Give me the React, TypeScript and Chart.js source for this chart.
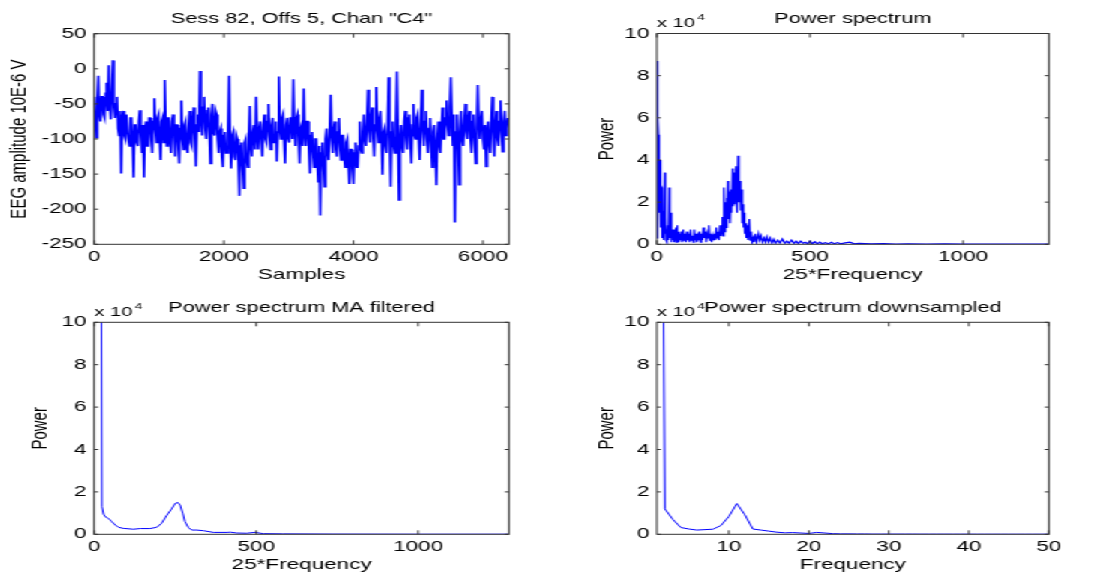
import React, { useEffect, useRef } from 'react';
import { Chart, registerables } from 'chart.js';

Chart.register(...registerables);

// ---------------- DATA ----------------
// EEG trace, one read value every EEG_STEP samples (local peaks / troughs / core)
const EEG_STEP = 16;
const eegValues = [
  -40, -70, -98, -45, -10, -65, -75, -40, -40, -65, -70, -35, -20, -60, 5, -50, -72, -35, 12, -55,
  -70, -50, -40, -85, -95, -60, -149, -70, -60, -95, -100, -65, -65, -100, -110, -70, -70, -105, -155, -80,
  -80, -105, -110, -75, -59, -95, -120, -80, -155, -85, -75, -110, -110, -70, -70, -100, -120, -75, -42, -85,
  -105, -70, -65, -100, -130, -75, -70, -105, -16, -80, -110, -70, -70, -100, -120, -75, -65, -100, -125, -80,
  -80, -110, -135, -85, -45, -100, -115, -80, -75, -110, -120, -85, -60, -105, -110, -75, -55, -95, -139, -80,
  -65, -90, -3, -70, -95, -55, -40, -85, -100, -60, -55, -90, -135, -65, -50, -90, -95, -60, -65, -100,
  -120, -90, -85, -125, -140, -95, -90, -120, -120, -90, -10, -100, -142, -95, -90, -125, -130, -95, -100, -130,
  -181, -110, -105, -140, -170, -105, -100, -130, -140, -100, -53, -110, -125, -90, -80, -115, -40, -95, -115, -85,
  -75, -105, -125, -80, -65, -100, -105, -75, -50, -95, -115, -80, -70, -105, -105, -75, -132, -90, -11, -85,
  -100, -70, -65, -100, -135, -80, -70, -100, -105, -70, -70, -100, -15, -85, -110, -70, -65, -100, -135, -85,
  -80, -110, -28, -90, -110, -75, -75, -115, -149, -95, -90, -120, -140, -100, -100, -130, -161, -110, -209, -120,
  -105, -135, -168, -100, -85, -120, -130, -90, -37, -95, -120, -85, -75, -115, -125, -90, -70, -110, -130, -95,
  -95, -125, -140, -105, -100, -135, -164, -115, -115, -145, -164, -120, -105, -140, -140, -110, -75, -115, -120, -90,
  -65, -100, -110, -75, -30, -90, -105, -70, -55, -95, -125, -80, -26, -85, -105, -70, -60, -100, -151, -90,
  -85, -110, -120, -80, -12, -95, -168, -90, -75, -110, -120, -80, -4, -90, -187, -100, -80, -110, -120, -75,
  -60, -100, -115, -70, -65, -105, -135, -80, -50, -95, -100, -70, -65, -100, -130, -80, -30, -85, -110, -75,
  -60, -100, -120, -85, -70, -110, -140, -90, -80, -115, -166, -100, -75, -110, -120, -85, -55, -100, -100, -70,
  -45, -80, -95, -55, -12, -70, -110, -65, -219, -90, -65, -105, -165, -90, -60, -100, -110, -75, -50, -90,
  -100, -70, -60, -100, -120, -75, -65, -105, -135, -85, -23, -80, -100, -70, -60, -100, -115, -80, -139, -90,
  -75, -105, -120, -75, -40, -90, -125, -80, -60, -100, -110, -75, -45, -90, -118, -75, -60, -95, -85, -70,
];
const eegXTicks = [0, 2000, 4000, 6000];

// Raw power spectrum (x 10^4)
const psFreq = [
  0, 1, 3, 4, 5, 6, 8, 9, 10, 11, 12, 13, 14, 16, 17, 18, 20, 21, 22, 24,
  26, 27, 29, 30, 32, 34, 36, 38, 40, 41, 43, 44, 46, 48, 50, 52, 54, 56, 58, 60,
  62, 64, 66, 68, 70, 72, 75, 78, 80, 83, 86, 89, 92, 95, 98, 101, 104, 107, 110, 113,
  116, 119, 122, 125, 128, 131, 134, 137, 140, 143, 146, 149, 152, 155, 158, 161, 164, 167, 170, 173,
  176, 179, 182, 185, 188, 191, 194, 197, 200, 203, 206, 209, 212, 214, 216, 218, 220, 222, 224, 226,
  228, 230, 232, 234, 236, 238, 240, 242, 244, 247, 249, 252, 254, 256, 258, 260, 262, 265, 267, 269,
  272, 274, 277, 279, 281, 283, 285, 287, 289, 291, 293, 296, 298, 302, 305, 308, 311, 315, 318, 322,
  326, 332, 336, 340, 345, 350, 355, 359, 365, 370, 376, 382, 388, 395, 402, 410, 418, 425, 432, 440,
  448, 455, 462, 470, 478, 485, 492, 500, 508, 516, 524, 532, 540, 550, 560, 570, 580, 590, 600, 615,
  630, 645, 660, 700, 740, 780, 820, 880, 940, 1000, 1060, 1120, 1180, 1240, 1280,
];
const psPower = [
  0.3, 8.7, 2.0, 6.0, 5.2, 1.5, 4.7, 2.5, 4.0, 1.0, 3.6, 0.8, 2.8, 2.7, 0.3, 1.6, 1.3, 0.2, 1.0, 0.3,
  3.4, 0.5, 1.3, 0.2, 0.7, 0.1, 0.9, 0.2, 2.7, 0.4, 2.2, 0.3, 1.5, 0.1, 0.7, 0.2, 0.7, 0.1, 0.5, 0.2,
  0.8, 0.1, 0.9, 0.3, 0.6, 0.1, 0.5, 0.2, 0.6, 0.1, 0.7, 0.2, 0.5, 0.1, 0.6, 0.2, 0.5, 0.1, 0.7, 0.2,
  0.4, 0.1, 0.7, 0.2, 0.5, 0.1, 0.4, 0.2, 0.6, 0.1, 0.5, 0.2, 0.8, 0.3, 0.6, 0.1, 0.5, 0.3, 0.9, 0.2,
  0.5, 0.1, 0.4, 0.2, 0.5, 0.2, 0.8, 0.3, 0.6, 0.2, 0.9, 0.4, 0.8, 1.3, 0.4, 1.6, 2.7, 0.6, 2.0, 0.8,
  2.2, 1.0, 3.0, 1.2, 2.5, 1.8, 1.0, 2.6, 1.5, 3.6, 1.8, 3.4, 1.9, 2.8, 3.7, 2.1, 1.5, 4.2, 2.0, 2.3,
  3.0, 1.6, 2.6, 1.0, 1.9, 0.8, 1.5, 0.5, 1.0, 0.8, 0.3, 0.9, 0.2, 1.2, 0.2, 0.6, 0.1, 0.3, 0.1, 0.5,
  0.1, 0.5, 0.2, 0.4, 0.1, 0.3, 0.1, 0.35, 0.1, 0.3, 0.05, 0.25, 0.05, 0.2, 0.05, 0.25, 0.05, 0.15, 0.05, 0.2,
  0.05, 0.15, 0.03, 0.15, 0.05, 0.1, 0.02, 0.15, 0.03, 0.12, 0.02, 0.1, 0.03, 0.08, 0.02, 0.1, 0.02, 0.08, 0.02, 0.07,
  0.1, 0.02, 0.04, 0.02, 0.03, 0.01, 0.02, 0.01, 0.02, 0.01, 0.015, 0.01, 0.015, 0.01, 0.01,
];

// Moving-average filtered spectrum (x 10^4)
const maFreq = [
  0, 24, 29, 34, 39, 49, 54, 65, 75, 90, 121, 142, 172, 193, 208, 224, 239, 250, 258, 265,
  273, 280, 291, 301, 316, 337, 368, 409, 420, 440, 470, 496, 522, 583, 737, 1000, 1280,
];
const maPower = [
  120, 1.3, 0.95, 0.83, 0.8, 0.68, 0.6, 0.44, 0.33, 0.28, 0.24, 0.27, 0.27, 0.33, 0.52, 0.9, 1.2, 1.46, 1.5, 1.38,
  1.0, 0.6, 0.31, 0.2, 0.2, 0.17, 0.09, 0.09, 0.1, 0.06, 0.05, 0.09, 0.03, 0.02, 0.01, 0.005, 0.005,
];
const spectrumXTicks = [0, 500, 1000];

// Downsampled spectrum (x 10^4)
const dsFreq = [
  1, 2, 3, 4, 5, 6, 7, 8, 9, 10, 11, 12, 13, 14, 15, 16, 17, 18, 19, 20, 21, 22, 23, 24, 25,
  26, 27, 28, 29, 30, 31, 32, 33, 34, 35, 36, 37, 38, 39, 40, 41, 42, 43, 44, 45, 46, 47, 48, 49, 50,
];
const dsPower = [
  60, 1.2, 0.7, 0.32, 0.25, 0.2, 0.22, 0.24, 0.41, 0.84, 1.45, 0.92, 0.25, 0.2, 0.15, 0.1, 0.07, 0.08, 0.06, 0.04,
  0.09, 0.06, 0.03, 0.02, 0.02, 0.015, 0.015, 0.01, 0.01, 0.01, 0.01, 0.01, 0.01, 0.008, 0.008, 0.008, 0.008, 0.007,
  0.007, 0.007, 0.006, 0.006, 0.006, 0.006, 0.005, 0.005, 0.005, 0.005, 0.005, 0.005,
];
const dsXTicks = [10, 20, 30, 40, 50];

// ---------------- rendering ----------------
const FONT = '"Liberation Sans", Arial, Helvetica, sans-serif';
const STRETCH = 1.5;

const matlabPlugin = {
  id: 'matlab',
  afterDraw(chart: any, _args: any, opts: any) {
    const { ctx, chartArea, scales } = chart;
    const { left, right, top, bottom } = chartArea;
    ctx.save();
    ctx.strokeStyle = '#333';
    ctx.lineWidth = 1;
    ctx.strokeRect(left, top, right - left, bottom - top);
    ctx.beginPath();
    const tlx = 4;
    const tly = 2.7;
    scales.x.ticks.forEach((t: any) => {
      const px = scales.x.getPixelForValue(t.value);
      ctx.moveTo(px, bottom);
      ctx.lineTo(px, bottom - tlx);
      ctx.moveTo(px, top);
      ctx.lineTo(px, top + tlx);
    });
    scales.y.ticks.forEach((t: any) => {
      const py = scales.y.getPixelForValue(t.value);
      ctx.moveTo(left, py);
      ctx.lineTo(left + tly, py);
      ctx.moveTo(right, py);
      ctx.lineTo(right - tly, py);
    });
    ctx.stroke();

    ctx.fillStyle = '#000';
    ctx.textBaseline = 'alphabetic';
    ctx.font = `14.5px ${FONT}`;
    ctx.textAlign = 'center';
    ctx.fillText(opts.title, (left + right) / 2, top - 10.8);
    if (opts.exponent) {
      ctx.textAlign = 'left';
      ctx.font = `13.5px ${FONT}`;
      const base = 'x 10';
      ctx.fillText(base, left, top - 6.5);
      const w = ctx.measureText(base).width;
      ctx.font = `9px ${FONT}`;
      ctx.fillText(opts.exponent, left + w + 1.5, top - 13.5);
    }
    ctx.restore();
  },
};

type Panel = {
  left: number;
  top: number;
  width: number;
  height: number;
  xs: number[];
  ys: number[];
  lineWidth: number;
  xMin: number;
  xMax: number;
  xTicks: number[];
  yMin: number;
  yMax: number;
  yStep: number;
  title: string;
  xTitle: string;
  yTitle: string;
  exponent?: string;
  areaLeft: number;
  areaRight: number;
  areaTop: number;
  areaBottom: number;
  yTitleCenter: number;
  xTitleMiddle: number;
};

function PanelChart({ p }: { p: Panel }) {
  const ref = useRef<HTMLCanvasElement | null>(null);
  useEffect(() => {
    if (!ref.current) return;
    const data = p.xs.map((x, i) => ({ x, y: p.ys[i] }));
    const chart = new Chart(ref.current, {
      type: 'line',
      data: {
        datasets: [
          {
            data,
            borderColor: '#0000ff',
            borderWidth: p.lineWidth,
            pointRadius: 0,
            tension: 0,
            fill: false,
          },
        ],
      },
      options: {
        animation: false,
        responsive: false,
        maintainAspectRatio: false,
        events: [],
        layout: {
          padding: {
            left: 0,
            right: p.width - p.areaRight,
            top: p.areaTop,
            bottom: 0,
          },
        },
        plugins: {
          legend: { display: false },
          tooltip: { enabled: false },
          title: { display: false },
          matlab: { title: p.title, exponent: p.exponent },
        } as any,
        scales: {
          x: {
            type: 'linear',
            min: p.xMin,
            max: p.xMax,
            grid: { display: false, drawTicks: false },
            border: { display: false },
            ticks: {
              padding: 4,
              color: '#000',
              maxRotation: 0,
              autoSkip: false,
              font: { family: FONT, size: 15 },
              callback: (v: any) => String(v),
            },
            afterBuildTicks: (s: any) => {
              s.ticks = p.xTicks.map((v) => ({ value: v }));
            },
            afterFit: (s: any) => {
              s.height = p.height - p.areaBottom;
            },
            title: {
              display: true,
              text: p.xTitle,
              color: '#000',
              font: { family: FONT, size: 15 },
              padding: { top: 0, bottom: p.height - 9 - p.xTitleMiddle },
            },
          },
          y: {
            type: 'linear',
            min: p.yMin,
            max: p.yMax,
            grid: { display: false, drawTicks: false },
            border: { display: false },
            ticks: {
              padding: 5,
              color: '#000',
              stepSize: p.yStep,
              font: { family: FONT, size: 15 },
              callback: (v: any) => String(v),
            },
            afterFit: (s: any) => {
              s.width = p.areaLeft;
            },
            title: {
              display: true,
              text: p.yTitle,
              color: '#000',
              font: { family: FONT, size: 15 },
              padding: { top: p.yTitleCenter - 9, bottom: 0 },
            },
          },
        },
      },
      plugins: [matlabPlugin as any],
    });
    return () => chart.destroy();
  }, [p]);
  return (
    <canvas
      ref={ref}
      width={p.width}
      height={p.height}
      style={{ position: 'absolute', left: p.left, top: p.top, width: p.width, height: p.height }}
    />
  );
}

const eegSamples = eegValues.map((_, i) => i * EEG_STEP);

const panels: Panel[] = [
  {
    left: 0, top: 0, width: 360, height: 290,
    xs: eegSamples, ys: eegValues, lineWidth: 1.6,
    xMin: 0, xMax: 6400, xTicks: eegXTicks,
    yMin: -250, yMax: 50, yStep: 50,
    title: 'Sess 82, Offs 5, Chan "C4"', xTitle: 'Samples', yTitle: 'EEG amplitude 10E-6 V',
    areaLeft: 62.67, areaRight: 339.33, areaTop: 33.7, areaBottom: 244.3,
    yTitleCenter: 12.7, xTitleMiddle: 274.8,
  },
  {
    left: 360, top: 0, width: 369, height: 290,
    xs: psFreq, ys: psPower, lineWidth: 1.2,
    xMin: 0, xMax: 1280, xTicks: spectrumXTicks,
    yMin: 0, yMax: 10, yStep: 2,
    title: 'Power spectrum', xTitle: '25*Frequency', yTitle: 'Power', exponent: '4',
    areaLeft: 78, areaRight: 339.33, areaTop: 33.5, areaBottom: 244.3,
    yTitleCenter: 44.4, xTitleMiddle: 274.8,
  },
  {
    left: 0, top: 290, width: 360, height: 285,
    xs: maFreq, ys: maPower, lineWidth: 1,
    xMin: 0, xMax: 1280, xTicks: spectrumXTicks,
    yMin: 0, yMax: 10, yStep: 2,
    title: 'Power spectrum MA filtered', xTitle: '25*Frequency', yTitle: 'Power', exponent: '4',
    areaLeft: 62.67, areaRight: 339.33, areaTop: 32.3, areaBottom: 244.3,
    yTitleCenter: 26.7, xTitleMiddle: 274.8,
  },
  {
    left: 360, top: 290, width: 369, height: 285,
    xs: dsFreq, ys: dsPower, lineWidth: 1,
    xMin: 1, xMax: 50, xTicks: dsXTicks,
    yMin: 0, yMax: 10, yStep: 2,
    title: 'Power spectrum downsampled', xTitle: 'Frequency', yTitle: 'Power', exponent: '4',
    areaLeft: 78, areaRight: 339.33, areaTop: 32.3, areaBottom: 244.3,
    yTitleCenter: 44.4, xTitleMiddle: 274.8,
  },
];

export default function App() {
  return (
    <div
      style={{
        position: 'absolute',
        left: 0,
        top: 0,
        width: 1094,
        height: 575,
        overflow: 'hidden',
        background: '#fff',
      }}
    >
      <div
        style={{
          position: 'absolute',
          left: 0,
          top: 0,
          width: 729,
          height: 575,
          transform: `scaleX(${STRETCH})`,
          transformOrigin: '0 0',
        }}
      >
        {panels.map((p, i) => (
          <PanelChart key={i} p={p} />
        ))}
      </div>
    </div>
  );
}
